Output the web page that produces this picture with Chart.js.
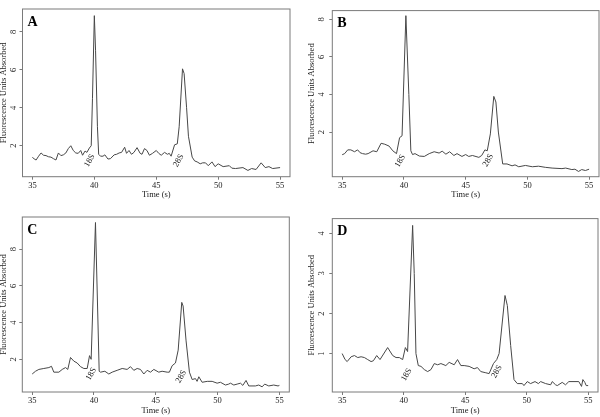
<!DOCTYPE html>
<html><head><meta charset="utf-8">
<script src="https://cdn.jsdelivr.net/npm/chart.js@4/dist/chart.umd.min.js"></script>
<style>
html,body{margin:0;padding:0;background:#fff;}
#wrap{position:relative;width:600px;height:417px;overflow:hidden;background:#fff;}
canvas{position:absolute;}
</style></head><body>
<div id="wrap">
<canvas id="cA" width="300" height="208" style="left:0;top:0"></canvas>
<canvas id="cB" width="300" height="208" style="left:300px;top:0"></canvas>
<canvas id="cC" width="300" height="209" style="left:0;top:208px"></canvas>
<canvas id="cD" width="300" height="209" style="left:300px;top:208px"></canvas>
</div>
<script>
// ---- data ----
const xTicks = [35, 40, 45, 50, 55];
const xLabel = 'Time (s)';
const yLabel = 'Fluorescence Units Absorbed';
const panelLetters = ['A', 'B', 'C', 'D'];
const peakNames = ['18S', '28S'];

const timeA = [35.0,35.15,35.3,35.5,35.7,35.9,36.1,36.3,36.5,36.7,36.9,37.1,37.3,37.5,37.7,37.9,38.1,38.3,38.5,38.7,38.9,39.05,39.25,39.4,39.6,39.75,39.85,40.0,40.1,40.25,40.35,40.5,40.7,40.85,41.1,41.3,41.6,41.8,42.0,42.2,42.45,42.6,42.8,43.0,43.2,43.45,43.7,43.85,44.05,44.25,44.45,44.7,45.0,45.2,45.4,45.67,45.9,46.05,46.2,46.48,46.7,46.85,47.12,47.25,47.45,47.6,47.9,48.1,48.3,48.55,48.75,48.98,49.2,49.5,49.75,50.0,50.4,50.9,51.1,51.4,52.0,52.4,52.7,53.06,53.47,53.8,54.1,54.4,55.0];
const valuesA = [1.40,1.30,1.25,1.45,1.62,1.50,1.48,1.42,1.40,1.32,1.25,1.62,1.48,1.52,1.62,1.85,2.0,1.75,1.62,1.60,1.75,1.50,1.72,1.65,1.88,2.0,4.5,8.85,7.0,3.0,1.55,1.45,1.45,1.52,1.30,1.32,1.52,1.55,1.62,1.65,1.92,1.60,1.75,1.55,1.65,1.90,1.60,1.55,1.85,1.75,1.50,1.60,1.75,1.60,1.50,1.65,1.55,1.60,1.45,2.05,2.10,3.0,6.05,5.8,4.0,2.5,1.40,1.20,1.15,1.05,1.10,1.10,0.95,1.15,0.90,1.05,0.90,0.95,0.82,0.80,0.85,0.70,0.80,0.75,1.10,0.85,0.90,0.80,0.85];

const timeB = [35.0,35.2,35.45,35.7,36.0,36.25,36.45,36.65,36.9,37.1,37.5,37.8,38.15,38.45,38.8,39.1,39.4,39.65,39.85,40.16,40.4,40.56,40.7,40.9,41.25,41.65,42.05,42.45,42.85,43.1,43.4,43.7,44.05,44.3,44.7,45.0,45.25,45.55,46.07,46.3,46.56,46.75,47.0,47.28,47.45,47.65,48.0,48.35,48.76,49.0,49.3,49.84,50.4,50.9,51.45,52.0,52.8,53.1,53.6,53.85,54.14,54.4,54.7,55.0];
const valuesB = [0.79,0.85,1.05,1.05,0.95,1.05,0.9,0.85,0.82,0.85,1.0,0.95,1.4,1.35,1.25,1.0,0.85,1.7,1.8,8.2,4.0,1.0,0.8,0.85,0.72,0.7,0.85,0.95,0.88,0.98,0.82,0.95,0.75,0.85,0.7,0.8,0.7,0.75,0.65,0.75,1.05,1.0,1.9,3.9,3.6,2.0,0.3,0.3,0.2,0.25,0.15,0.22,0.15,0.18,0.12,0.08,0.05,0.08,0.0,0.02,-0.1,0.0,-0.05,0.02];

const timeC = [35.0,35.27,35.54,35.94,36.35,36.56,36.75,37.16,37.43,37.7,37.88,38.1,38.37,38.64,38.91,39.18,39.45,39.64,39.77,40.12,40.42,40.53,40.88,41.2,41.47,41.87,42.28,42.68,42.95,43.22,43.49,43.76,44.03,44.3,44.57,44.84,45.24,45.51,45.92,46.1,46.32,46.59,46.81,47.1,47.21,47.45,47.72,47.94,48.21,48.34,48.48,48.75,49.16,49.56,49.96,50.23,50.63,50.9,51.04,51.31,51.58,51.85,52.04,52.3,52.52,53.06,53.33,53.6,53.81,54.14,54.54,54.89,55.0];
const valuesC = [1.2,1.35,1.45,1.5,1.55,1.62,1.3,1.3,1.45,1.55,1.45,2.1,1.9,1.8,1.6,1.5,1.5,2.2,2.0,9.45,1.35,1.3,1.35,1.2,1.3,1.4,1.5,1.45,1.6,1.4,1.5,1.45,1.2,1.4,1.3,1.45,1.3,1.35,1.3,1.3,1.65,1.8,2.5,5.1,4.9,3.0,1.3,0.9,0.95,0.8,1.05,0.75,0.8,0.8,0.7,0.75,0.6,0.65,0.7,0.6,0.65,0.7,0.58,0.85,0.55,0.55,0.6,0.5,0.65,0.55,0.6,0.55,0.58];

const timeD = [35.0,35.24,35.41,35.73,36.0,36.27,36.54,36.81,37.08,37.35,37.54,37.81,38.08,38.7,39.11,39.38,39.65,39.92,40.14,40.32,40.73,40.86,41.0,41.19,41.41,41.68,41.95,42.22,42.49,42.76,43.03,43.43,43.7,44.11,44.38,44.65,44.92,45.32,45.73,46.0,46.27,46.68,46.95,47.3,47.57,47.76,48.24,48.43,48.7,48.97,49.24,49.65,49.78,50.05,50.32,50.68,50.95,51.14,51.54,51.95,52.08,52.35,52.49,52.89,53.16,53.43,54.24,54.46,54.57,54.73,54.84,55.0];
const valuesD = [1.0,0.85,0.8,0.92,0.95,0.9,0.92,0.9,0.85,0.8,0.82,0.95,0.85,1.15,0.95,0.9,0.9,0.85,1.15,1.05,4.2,3.0,1.0,0.7,0.68,0.6,0.55,0.6,0.75,0.72,0.75,0.7,0.78,0.72,0.85,0.7,0.7,0.68,0.62,0.65,0.55,0.52,0.5,0.75,0.85,1.0,2.45,2.2,1.2,0.35,0.25,0.25,0.2,0.3,0.25,0.3,0.25,0.3,0.25,0.22,0.3,0.22,0.2,0.28,0.22,0.3,0.3,0.18,0.35,0.28,0.2,0.2];

const yTicksA = [2, 4, 6, 8];
const yTicksB = [2, 4, 6, 8];
const yTicksC = [2, 4, 6, 8];
const yTicksD = [1, 2, 3, 4];

const peakTimesA = [39.62, 46.8];  const peakLevelsA = [1.22, 1.22];
const peakTimesB = [39.7, 46.83];  const peakLevelsB = [0.46, 0.49];
const peakTimesC = [39.77, 47.05]; const peakLevelsC = [1.2, 1.06];
const peakTimesD = [40.24, 47.57]; const peakLevelsD = [0.47, 0.55];

// ---- drawing ----
const FONT = 'Liberation Serif';
const boxPlugin = {
  id: 'box',
  afterDraw(chart, args, opts) {
    const {ctx, chartArea: a, scales: {x, y}} = chart;
    ctx.save();
    ctx.strokeStyle = '#7a7a7a'; ctx.lineWidth = 1;
    ctx.strokeRect(a.left, a.top, a.right - a.left, a.bottom - a.top);
    ctx.fillStyle = '#000';
    ctx.font = 'bold 14px "' + FONT + '"';
    ctx.textAlign = 'left'; ctx.textBaseline = 'alphabetic';
    ctx.fillText(opts.letter, a.left + 5, a.top + 16.5);
    ctx.font = '8.5px "' + FONT + '"';
    ctx.fillStyle = '#222';
    ctx.textAlign = 'center'; ctx.textBaseline = 'middle';
    opts.peakTimes.forEach((t, i) => {
      ctx.save();
      ctx.translate(x.getPixelForValue(t), y.getPixelForValue(opts.peakLevels[i]));
      ctx.rotate(-Math.PI / 3);
      ctx.fillText(peakNames[i], 0, 0);
      ctx.restore();
    });
    ctx.restore();
  }
};

function makePanel(id, time, values, yTicks, yMin, yMax, letter, peakTimes, peakLevels, L) {
  const tickFont = {family: FONT, size: 8.5};
  new Chart(document.getElementById(id), {
    type: 'line',
    data: {datasets: [{data: time.map((t, i) => ({x: t, y: values[i]})),
      borderColor: '#474747', borderWidth: 1, pointRadius: 0, tension: 0, fill: false}]},
    options: {
      responsive: false, animation: false, devicePixelRatio: 1,
      layout: {padding: {top: L.padTop, right: L.padRight, left: 0, bottom: 0}},
      plugins: {legend: {display: false}, tooltip: {enabled: false},
        box: {letter, peakTimes, peakLevels}},
      scales: {
        x: {type: 'linear', min: 34.2, max: 55.8,
          afterBuildTicks: s => { s.ticks = xTicks.map(v => ({value: v})); },
          afterFit: s => { s.height = L.xH; },
          grid: {drawOnChartArea: false, drawTicks: true, tickLength: 3, color: '#7a7a7a'},
          border: {display: false},
          ticks: {font: tickFont, color: '#222', padding: 1, maxRotation: 0, autoSkip: false},
          title: {display: true, text: xLabel, font: tickFont, color: '#222', padding: {top: 0, bottom: L.xTitlePad}}},
        y: {type: 'linear', min: yMin, max: yMax,
          afterBuildTicks: s => { s.ticks = yTicks.map(v => ({value: v})); },
          afterFit: s => { s.width = L.yW; },
          grid: {drawOnChartArea: false, drawTicks: true, tickLength: 3, color: '#7a7a7a'},
          border: {display: false},
          ticks: {font: tickFont, color: '#222', padding: L.yTickPad, minRotation: 90, maxRotation: 90, crossAlign: 'center', autoSkip: false},
          title: {display: true, text: yLabel, font: tickFont, color: '#222', padding: {top: L.yTitlePad, bottom: 0}}}
      }
    },
    plugins: [boxPlugin]
  });
}

makePanel('cA', timeA, valuesA, yTicksA, 0.37, 9.2, panelLetters[0], peakTimesA, peakLevelsA,
  {padTop: 0.5, padRight: 10, xH: 31.3, yW: 22.5, xTitlePad: 7.9, yTitlePad: -1.6, yTickPad: 3.9});
makePanel('cB', timeB, valuesB, yTicksB, -0.38, 8.47, panelLetters[1], peakTimesB, peakLevelsB,
  {padTop: 0.5, padRight: 1, xH: 31.3, yW: 32.3, xTitlePad: 7.9, yTitlePad: 6.9, yTickPad: 5.5});
makePanel('cC', timeC, valuesC, yTicksC, 0.22, 9.75, panelLetters[2], peakTimesC, peakLevelsC,
  {padTop: 7.7, padRight: 10.7, xH: 25, yW: 22.3, xTitlePad: 1.6, yTitlePad: -1.1, yTickPad: 3.9});
makePanel('cD', timeD, valuesD, yTicksD, 0.04, 4.37, panelLetters[3], peakTimesD, peakLevelsD,
  {padTop: 7.7, padRight: 2, xH: 25, yW: 32.3, xTitlePad: 1.2, yTitlePad: 6.6, yTickPad: 5.5});
</script>
</body></html>
